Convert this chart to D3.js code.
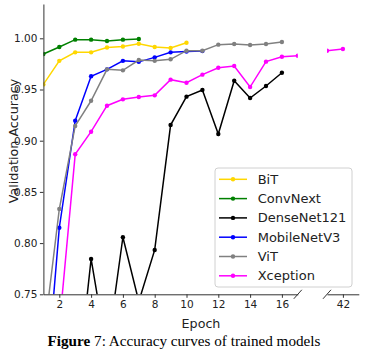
<!DOCTYPE html>
<html>
<head>
<meta charset="utf-8">
<script src="https://cdnjs.cloudflare.com/ajax/libs/d3/7.8.5/d3.min.js"></script>
<style>
  body { margin: 0; background: #fff; }
  svg { display: block; font-family: "DejaVu Sans", sans-serif; }
</style>
</head>
<body>
<svg id="chart" width="365" height="361"></svg>
<script>
const models = ['BiT', 'ConvNext', 'DenseNet121', 'MobileNetV3', 'ViT', 'Xception'];
const colors = ['#ffd700', '#008000', '#000000', '#0000ff', '#808080', '#ff00ff'];

// accuracy per epoch, starting at epoch 1
const bit = [0.955, 0.978, 0.9863, 0.9863, 0.991, 0.992, 0.9947, 0.9915, 0.9905, 0.9957];
const convnext = [0.9847, 0.9915, 0.9987, 0.9987, 0.9974, 0.9987, 0.9993];
const densenet = [0.45, 0.6, 0.641, 0.7845, 0.693, 0.8057, 0.743, 0.7933, 0.9153, 0.943, 0.9495, 0.9065, 0.9586, 0.9417, 0.9534, 0.9664];
const mobilenet = [0.629, 0.815, 0.9196, 0.963, 0.9697, 0.978, 0.977, 0.9814, 0.9863, 0.987, 0.9875];
const vit = [0.705, 0.8333, 0.9144, 0.939, 0.9697, 0.9687, 0.9788, 0.978, 0.9795, 0.9879, 0.9879, 0.9938, 0.9944, 0.9935, 0.9944, 0.9964];
const xception = [0.5, 0.718, 0.8867, 0.9088, 0.9342, 0.9404, 0.9427, 0.9443, 0.9596, 0.9566, 0.9645, 0.9713, 0.973, 0.9524, 0.9772, 0.982, 0.983];
const xceptionTailEpochs = [41, 42];
const xceptionTail = [0.9879, 0.9896];

const xTicksMain = [2, 4, 6, 8, 10, 12, 14, 16];
const xTicksTail = [42];
const yTicks = [0.75, 0.80, 0.85, 0.90, 0.95, 1.00];

const series = [bit, convnext, densenet, mobilenet, vit, xception];

const svg = d3.select('#chart');

const xMain = d3.scaleLinear().domain([1, 17]).range([43.4, 297.8]);
const xTail = d3.scaleLinear().domain([41, 43]).range([327, 358.8]);
const y = d3.scaleLinear().domain([0.75, 1.0335]).range([294.3, 4]);

const defs = svg.append('defs');
[['clipMain', xMain], ['clipTail', xTail]].forEach(([id, sx]) => {
  defs.append('clipPath').attr('id', id)
    .append('rect')
    .attr('x', sx.range()[0])
    .attr('y', y.range()[1])
    .attr('width', sx.range()[1] - sx.range()[0])
    .attr('height', y.range()[0] - y.range()[1]);
});

const drawSeries = (g, sx, pts, color) => {
  const line = d3.line().x(d => sx(d[0])).y(d => y(d[1]));
  g.append('path')
    .datum(pts)
    .attr('d', line)
    .attr('fill', 'none')
    .attr('stroke', color)
    .attr('stroke-width', 1.5);
  g.selectAll(null).data(pts).join('circle')
    .attr('cx', d => sx(d[0]))
    .attr('cy', d => y(d[1]))
    .attr('r', 2.2)
    .attr('fill', color);
};

const gMain = svg.append('g').attr('clip-path', 'url(#clipMain)');
series.forEach((vals, i) => {
  drawSeries(gMain, xMain, vals.map((v, j) => [j + 1, v]), colors[i]);
});

const gTail = svg.append('g').attr('clip-path', 'url(#clipTail)');
drawSeries(gTail, xTail, xceptionTailEpochs.map((e, j) => [e, xceptionTail[j]]), colors[5]);

const styleAxis = g => {
  g.selectAll('.domain').attr('stroke', '#333').attr('stroke-width', 1);
  g.selectAll('.tick line').attr('stroke', '#333');
  g.selectAll('.tick text')
    .attr('fill', '#222')
    .style('font-size', '10.5px')
    .style('font-family', '"DejaVu Sans", sans-serif');
};

svg.append('g')
  .attr('transform', `translate(0,${y.range()[0]})`)
  .call(d3.axisBottom(xMain).tickValues(xTicksMain).tickFormat(d3.format('d')).tickSize(3.5).tickSizeOuter(0).tickPadding(2.5))
  .call(styleAxis);

svg.append('g')
  .attr('transform', `translate(0,${y.range()[0]})`)
  .call(d3.axisBottom(xTail).tickValues(xTicksTail).tickFormat(d3.format('d')).tickSize(3.5).tickSizeOuter(0).tickPadding(2.5))
  .call(styleAxis);

svg.append('g')
  .attr('transform', `translate(${xMain.range()[0]},0)`)
  .call(d3.axisLeft(y).tickValues(yTicks).tickFormat(d3.format('.2f')).tickSize(3.5).tickSizeOuter(0).tickPadding(2.5))
  .call(styleAxis);

// break marks
[xMain.range()[1], xTail.range()[0]].forEach(bx => {
  svg.append('line')
    .attr('x1', bx - 4).attr('y1', y.range()[0] + 4.5)
    .attr('x2', bx + 4).attr('y2', y.range()[0] - 4.5)
    .attr('stroke', '#333').attr('stroke-width', 1);
});

svg.append('text')
  .attr('transform', 'translate(13,141) rotate(-90)')
  .attr('text-anchor', 'middle')
  .attr('dominant-baseline', 'central')
  .attr('fill', '#222')
  .style('font-size', '12.7px')
  .text('Validation Accuracy');

svg.append('text')
  .attr('x', 201).attr('y', 323)
  .attr('text-anchor', 'middle')
  .attr('dominant-baseline', 'central')
  .attr('fill', '#222')
  .style('font-size', '12.7px')
  .text('Epoch');

// legend
const legend = svg.append('g');
legend.append('rect')
  .attr('x', 215).attr('y', 168)
  .attr('width', 137).attr('height', 119)
  .attr('rx', 3)
  .attr('fill', '#fff').attr('fill-opacity', 0.85)
  .attr('stroke', '#d0d0d0');

models.forEach((name, i) => {
  const ly = 179.3 + i * 19.3;
  legend.append('line')
    .attr('x1', 219).attr('x2', 247)
    .attr('y1', ly).attr('y2', ly)
    .attr('stroke', colors[i]).attr('stroke-width', 1.5);
  legend.append('circle')
    .attr('cx', 233).attr('cy', ly).attr('r', 2.2)
    .attr('fill', colors[i]);
  legend.append('text')
    .attr('x', 257.7).attr('y', ly)
    .attr('dominant-baseline', 'central')
    .attr('fill', '#222')
    .style('font-size', '13px')
    .text(name);
});

const caption = svg.append('text')
  .attr('x', 184).attr('y', 346)
  .attr('text-anchor', 'middle')
  .attr('fill', '#000')
  .style('font-family', '"Liberation Serif", "Times New Roman", serif')
  .style('font-size', '15.2px');
caption.append('tspan').attr('font-weight', 'bold').text('Figure');
caption.append('tspan').text(' 7: Accuracy curves of trained models');
</script>
</body>
</html>
